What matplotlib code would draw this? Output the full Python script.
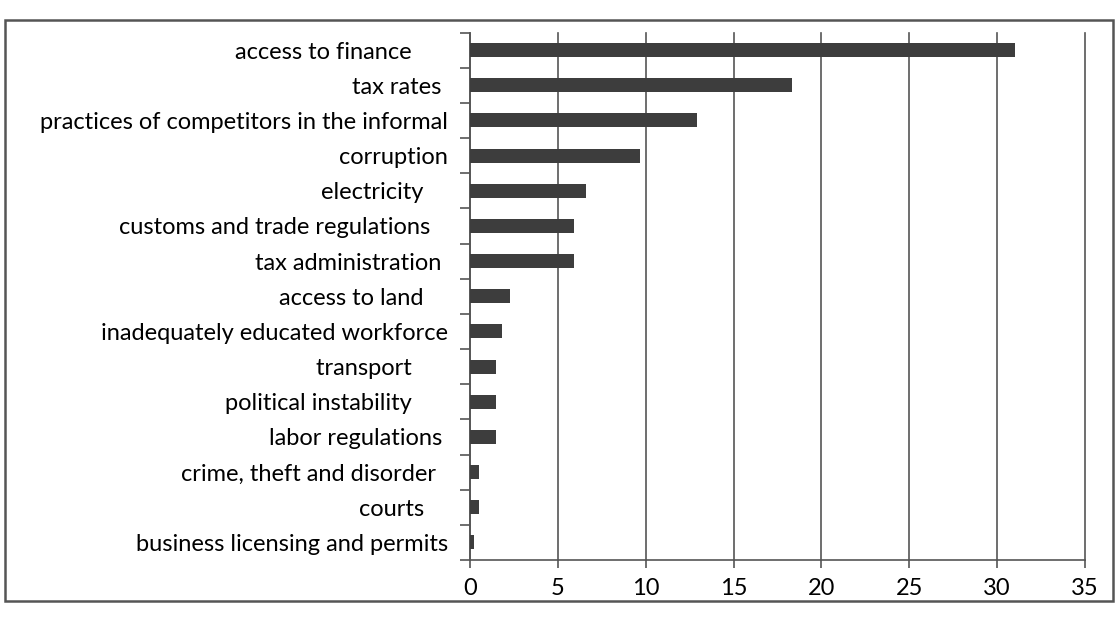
import matplotlib.pyplot as plt
from matplotlib.patches import Rectangle

# obstacle categories, top to bottom, and share of firms (%)
categories = [
    "access to finance",
    "tax rates",
    "practices of competitors in the informal",
    "corruption",
    "electricity",
    "customs and trade regulations",
    "tax administration",
    "access to land",
    "inadequately educated workforce",
    "transport",
    "political instability",
    "labor regulations",
    "crime, theft and disorder",
    "courts",
    "business licensing and permits",
]
values = [31.0, 18.3, 12.9, 9.7, 6.6, 5.9, 5.9, 2.3, 1.8, 1.5, 1.5, 1.5, 0.5, 0.5, 0.2]
# trailing blanks after some labels, as in the source sheet
label_pad = [6, 1, 0, 0, 4, 3, 1, 4, 0, 6, 6, 1, 2, 4, 0]
xticks = [0, 5, 10, 15, 20, 25, 30, 35]

plt.rcParams['font.family'] = ['Lato', 'DejaVu Sans']

fig = plt.figure(figsize=(11.17, 6.23), dpi=100)
fig.patches.append(Rectangle((0.0045, 0.035), 0.992, 0.933, transform=fig.transFigure,
                             fill=False, edgecolor='#555555', linewidth=1.8))

ax = fig.add_axes([0.4208, 0.1011, 0.5506, 0.8467])
ypos = list(range(len(categories)))
ax.barh(ypos, values, height=0.4, color='#3d3d3d', zorder=3)

ax.set_ylim(len(categories) - 0.5, -0.5)
ax.set_xlim(0, 35)
ax.set_xticks(xticks)
ax.set_xticklabels([str(t) for t in xticks], fontsize=17)

# category ticks sit on the boundaries, labels at the centres
ax.set_yticks([i - 0.5 for i in range(len(categories) + 1)])
ax.set_yticklabels([])
ax.set_yticks(ypos, minor=True)
ax.set_yticklabels([c + " " * p for c, p in zip(categories, label_pad)],
                   minor=True, fontsize=17)
ax.tick_params(axis='y', which='minor', length=0, pad=16)
ax.tick_params(axis='y', which='major', length=7, width=1.2, color='#555555')
ax.tick_params(axis='x', length=6, width=1.2, color='#555555', pad=7)

ax.grid(axis='x', color='#555555', linewidth=1.2)
for gl in ax.get_xgridlines():
    gl.set_clip_on(False)
ax.set_axisbelow(True)
for s in ['top', 'right']:
    ax.spines[s].set_visible(False)
for s in ['left', 'bottom']:
    ax.spines[s].set_color('#555555')
    ax.spines[s].set_linewidth(1.2)

fig.savefig('out.png', dpi=100)
